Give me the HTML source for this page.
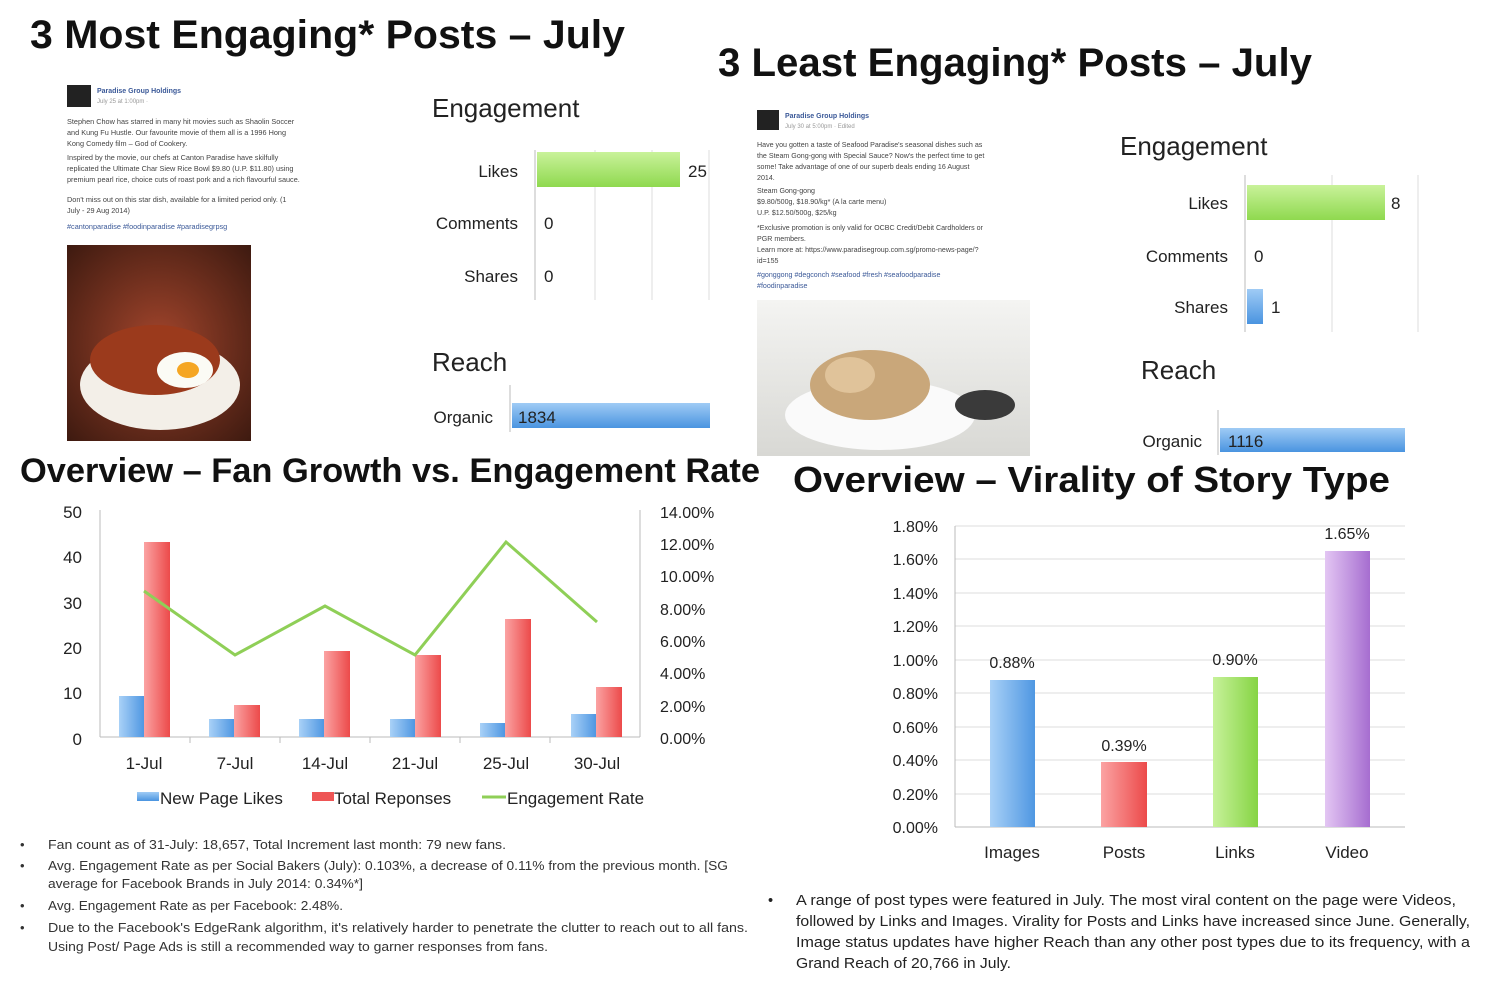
<!DOCTYPE html>
<html><head><meta charset="utf-8"><style>
html,body{margin:0;padding:0;background:#fff}
svg{display:block}
text{font-family:"Liberation Sans",sans-serif}
</style></head><body>
<svg width="1500" height="983" viewBox="0 0 1500 983" xmlns="http://www.w3.org/2000/svg">
<defs>
<linearGradient id="gG" x1="0" y1="0" x2="0" y2="1"><stop offset="0" stop-color="#c9f29a"/><stop offset="1" stop-color="#8fd94f"/></linearGradient>
<linearGradient id="gB" x1="0" y1="0" x2="0" y2="1"><stop offset="0" stop-color="#9fcbf5"/><stop offset="1" stop-color="#4a94e0"/></linearGradient>
<linearGradient id="vB" x1="0" y1="0" x2="1" y2="0"><stop offset="0" stop-color="#a9d1f7"/><stop offset="1" stop-color="#4f97e2"/></linearGradient>
<linearGradient id="vR" x1="0" y1="0" x2="1" y2="0"><stop offset="0" stop-color="#fba3a3"/><stop offset="1" stop-color="#ec4a4a"/></linearGradient>
<linearGradient id="vG" x1="0" y1="0" x2="1" y2="0"><stop offset="0" stop-color="#c7f29a"/><stop offset="1" stop-color="#86d444"/></linearGradient>
<linearGradient id="vP" x1="0" y1="0" x2="1" y2="0"><stop offset="0" stop-color="#e3c6f3"/><stop offset="1" stop-color="#a66dd0"/></linearGradient>
<radialGradient id="food1" cx="0.5" cy="0.5" r="0.7"><stop offset="0" stop-color="#a2452c"/><stop offset="1" stop-color="#3e1a10"/></radialGradient>
<linearGradient id="food2" x1="0" y1="0" x2="0" y2="1"><stop offset="0" stop-color="#f4f4f2"/><stop offset="1" stop-color="#d8d8d4"/></linearGradient>
</defs>

<!-- Top left -->
<text x="30" y="48" font-size="40" font-weight="bold" fill="#111" textLength="595" lengthAdjust="spacingAndGlyphs">3 Most Engaging* Posts – July</text>
<rect x="67" y="85" width="24" height="22" fill="#222"/>
<text x="97" y="93" font-size="7" fill="#3b5998" font-weight="bold">Paradise Group Holdings</text>
<text x="97" y="103" font-size="6" fill="#999">July 25 at 1:00pm · </text>
<g font-size="7.3" fill="#444">
<text x="67" y="124">Stephen Chow has starred in many hit movies such as Shaolin Soccer</text>
<text x="67" y="135">and Kung Fu Hustle. Our favourite movie of them all is a 1996 Hong</text>
<text x="67" y="146">Kong Comedy film – God of Cookery.</text>
<text x="67" y="160">Inspired by the movie, our chefs at Canton Paradise have skilfully</text>
<text x="67" y="171">replicated the Ultimate Char Siew Rice Bowl $9.80 (U.P. $11.80) using</text>
<text x="67" y="182">premium pearl rice, choice cuts of roast pork and a rich flavourful sauce.</text>
<text x="67" y="202">Don't miss out on this star dish, available for a limited period only. (1</text>
<text x="67" y="213">July - 29 Aug 2014)</text>
<text x="67" y="229" fill="#3b5998">#cantonparadise #foodinparadise #paradisegrpsg</text>
</g>
<rect x="67" y="245" width="184" height="196" fill="url(#food1)"/>
<ellipse cx="160" cy="385" rx="80" ry="45" fill="#f3efe8"/>
<ellipse cx="155" cy="360" rx="65" ry="35" fill="#9b3a1c"/>
<ellipse cx="185" cy="370" rx="28" ry="18" fill="#fbfbf5"/>
<ellipse cx="188" cy="370" rx="11" ry="8" fill="#f5a623"/>

<text x="432" y="117" font-size="26" fill="#222">Engagement</text>
<line x1="535" y1="150" x2="535" y2="300" stroke="#bbb"/>
<line x1="595" y1="150" x2="595" y2="300" stroke="#ddd"/>
<line x1="652" y1="150" x2="652" y2="300" stroke="#ddd"/>
<line x1="709" y1="150" x2="709" y2="300" stroke="#ddd"/>
<rect x="537" y="152" width="143" height="35" fill="url(#gG)"/>
<g font-size="17" fill="#222">
<text x="518" y="177" text-anchor="end">Likes</text>
<text x="688" y="177">25</text>
<text x="518" y="229" text-anchor="end">Comments</text>
<text x="544" y="229">0</text>
<text x="518" y="282" text-anchor="end">Shares</text>
<text x="544" y="282">0</text>
</g>
<text x="432" y="371" font-size="26" fill="#222">Reach</text>
<line x1="510" y1="385" x2="510" y2="432" stroke="#bbb"/>
<rect x="512" y="403" width="198" height="25" fill="url(#gB)"/>
<text x="493" y="423" font-size="17" fill="#222" text-anchor="end">Organic</text>
<text x="518" y="423" font-size="17" fill="#222">1834</text>

<!-- Top right -->
<text x="718" y="76" font-size="40" font-weight="bold" fill="#111" textLength="594" lengthAdjust="spacingAndGlyphs">3 Least Engaging* Posts – July</text>
<rect x="757" y="110" width="22" height="20" fill="#222"/>
<text x="785" y="118" font-size="7" fill="#3b5998" font-weight="bold">Paradise Group Holdings</text>
<text x="785" y="128" font-size="6" fill="#999">July 30 at 5:00pm · Edited</text>
<g font-size="7.1" fill="#444">
<text x="757" y="147">Have you gotten a taste of Seafood Paradise's seasonal dishes such as</text>
<text x="757" y="158">the Steam Gong-gong with Special Sauce? Now's the perfect time to get</text>
<text x="757" y="169">some! Take advantage of one of our superb deals ending 16 August</text>
<text x="757" y="180">2014.</text>
<text x="757" y="193">Steam Gong-gong</text>
<text x="757" y="204">$9.80/500g, $18.90/kg* (A la carte menu)</text>
<text x="757" y="215">U.P. $12.50/500g, $25/kg</text>
<text x="757" y="230">*Exclusive promotion is only valid for OCBC Credit/Debit Cardholders or</text>
<text x="757" y="241">PGR members.</text>
<text x="757" y="252">Learn more at: https://www.paradisegroup.com.sg/promo-news-page/?</text>
<text x="757" y="263">id=155</text>
<text x="757" y="277" fill="#3b5998">#gonggong #degconch #seafood #fresh #seafoodparadise</text>
<text x="757" y="288" fill="#3b5998">#foodinparadise</text>
</g>
<rect x="757" y="300" width="273" height="156" fill="url(#food2)"/>
<ellipse cx="880" cy="415" rx="95" ry="35" fill="#fafafa"/>
<ellipse cx="870" cy="385" rx="60" ry="35" fill="#c9a77a"/>
<ellipse cx="850" cy="375" rx="25" ry="18" fill="#e0c39a"/>
<ellipse cx="985" cy="405" rx="30" ry="15" fill="#3a3a3a"/>

<text x="1120" y="155" font-size="26" fill="#222">Engagement</text>
<line x1="1245" y1="175" x2="1245" y2="332" stroke="#bbb"/>
<line x1="1332" y1="175" x2="1332" y2="332" stroke="#ddd"/>
<line x1="1418" y1="175" x2="1418" y2="332" stroke="#ddd"/>
<rect x="1247" y="185" width="138" height="35" fill="url(#gG)"/>
<rect x="1247" y="289" width="16" height="35" fill="url(#gB)"/>
<g font-size="17" fill="#222">
<text x="1228" y="209" text-anchor="end">Likes</text>
<text x="1391" y="209">8</text>
<text x="1228" y="262" text-anchor="end">Comments</text>
<text x="1254" y="262">0</text>
<text x="1228" y="313" text-anchor="end">Shares</text>
<text x="1271" y="313">1</text>
</g>
<text x="1141" y="379" font-size="26" fill="#222">Reach</text>
<line x1="1218" y1="410" x2="1218" y2="455" stroke="#bbb"/>
<rect x="1220" y="428" width="185" height="24" fill="url(#gB)"/>
<text x="1202" y="447" font-size="17" fill="#222" text-anchor="end">Organic</text>
<text x="1228" y="447" font-size="17" fill="#222">1116</text>

<!-- Bottom left -->
<text x="20" y="482" font-size="34" font-weight="bold" fill="#111" textLength="740" lengthAdjust="spacingAndGlyphs">Overview – Fan Growth vs. Engagement Rate</text>
<g stroke="#bbb">
<line x1="100" y1="510" x2="100" y2="737"/>
<line x1="640" y1="510" x2="640" y2="737"/>
<line x1="100" y1="737" x2="640" y2="737"/>
<line x1="190" y1="737" x2="190" y2="743"/><line x1="280" y1="737" x2="280" y2="743"/><line x1="370" y1="737" x2="370" y2="743"/><line x1="460" y1="737" x2="460" y2="743"/><line x1="550" y1="737" x2="550" y2="743"/>
</g>
<g font-size="17" fill="#222" text-anchor="end">
<text x="82" y="518">50</text><text x="82" y="563">40</text><text x="82" y="609">30</text><text x="82" y="654">20</text><text x="82" y="699">10</text><text x="82" y="745">0</text>
</g>
<g font-size="16" fill="#222">
<text x="660" y="518">14.00%</text><text x="660" y="550">12.00%</text><text x="660" y="582">10.00%</text><text x="660" y="615">8.00%</text><text x="660" y="647">6.00%</text><text x="660" y="679">4.00%</text><text x="660" y="712">2.00%</text><text x="660" y="744">0.00%</text>
</g>
<rect x="119" y="696" width="25" height="41" fill="url(#vB)"/>
<rect x="144" y="542" width="26" height="195" fill="url(#vR)"/>
<rect x="209" y="719" width="25" height="18" fill="url(#vB)"/>
<rect x="234" y="705" width="26" height="32" fill="url(#vR)"/>
<rect x="299" y="719" width="25" height="18" fill="url(#vB)"/>
<rect x="324" y="651" width="26" height="86" fill="url(#vR)"/>
<rect x="390" y="719" width="25" height="18" fill="url(#vB)"/>
<rect x="415" y="655" width="26" height="82" fill="url(#vR)"/>
<rect x="480" y="723" width="25" height="14" fill="url(#vB)"/>
<rect x="505" y="619" width="26" height="118" fill="url(#vR)"/>
<rect x="571" y="714" width="25" height="23" fill="url(#vB)"/>
<rect x="596" y="687" width="26" height="50" fill="url(#vR)"/>
<polyline points="144,591 235,655 325,606 415,655 506,542 597,622" fill="none" stroke="#8fcf57" stroke-width="3"/>
<g font-size="17" fill="#222" text-anchor="middle">
<text x="144" y="769">1-Jul</text><text x="235" y="769">7-Jul</text><text x="325" y="769">14-Jul</text><text x="415" y="769">21-Jul</text><text x="506" y="769">25-Jul</text><text x="597" y="769">30-Jul</text>
</g>
<rect x="137" y="792" width="22" height="9" fill="url(#gB)"/>
<text x="160" y="804" font-size="17" fill="#222">New Page Likes</text>
<rect x="312" y="792" width="22" height="9" fill="#ee5555"/>
<text x="334" y="804" font-size="17" fill="#222">Total Reponses</text>
<line x1="482" y1="797" x2="506" y2="797" stroke="#8fcf57" stroke-width="3"/>
<text x="507" y="804" font-size="17" fill="#222">Engagement Rate</text>

<g font-size="13" fill="#333">
<text x="20" y="849">•</text><text x="48" y="849" textLength="458" lengthAdjust="spacingAndGlyphs">Fan count as of 31-July: 18,657, Total Increment last month: 79 new fans.</text>
<text x="20" y="870">•</text><text x="48" y="870" textLength="680" lengthAdjust="spacingAndGlyphs">Avg. Engagement Rate as per Social Bakers (July): 0.103%, a decrease of 0.11% from the previous month. [SG</text>
<text x="48" y="888" textLength="315" lengthAdjust="spacingAndGlyphs">average for Facebook Brands in July 2014: 0.34%*]</text>
<text x="20" y="910">•</text><text x="48" y="910" textLength="295" lengthAdjust="spacingAndGlyphs">Avg. Engagement Rate as per Facebook: 2.48%.</text>
<text x="20" y="932">•</text><text x="48" y="932" textLength="700" lengthAdjust="spacingAndGlyphs">Due to the Facebook's EdgeRank algorithm, it's relatively harder to penetrate the clutter to reach out to all fans.</text>
<text x="48" y="951" textLength="500" lengthAdjust="spacingAndGlyphs">Using Post/ Page Ads is still a recommended way to garner responses from fans.</text>
</g>

<!-- Bottom right -->
<text x="793" y="492" font-size="36" font-weight="bold" fill="#111" textLength="597" lengthAdjust="spacingAndGlyphs">Overview – Virality of Story Type</text>
<g stroke="#ddd">
<line x1="955" y1="526" x2="1405" y2="526"/><line x1="955" y1="559" x2="1405" y2="559"/><line x1="955" y1="593" x2="1405" y2="593"/><line x1="955" y1="626" x2="1405" y2="626"/><line x1="955" y1="660" x2="1405" y2="660"/><line x1="955" y1="693" x2="1405" y2="693"/><line x1="955" y1="727" x2="1405" y2="727"/><line x1="955" y1="760" x2="1405" y2="760"/><line x1="955" y1="794" x2="1405" y2="794"/>
</g>
<line x1="955" y1="827" x2="1405" y2="827" stroke="#bbb"/>
<line x1="955" y1="526" x2="955" y2="827" stroke="#bbb"/>
<g font-size="16" fill="#222" text-anchor="end">
<text x="938" y="532">1.80%</text><text x="938" y="565">1.60%</text><text x="938" y="599">1.40%</text><text x="938" y="632">1.20%</text><text x="938" y="666">1.00%</text><text x="938" y="699">0.80%</text><text x="938" y="733">0.60%</text><text x="938" y="766">0.40%</text><text x="938" y="800">0.20%</text><text x="938" y="833">0.00%</text>
</g>
<rect x="990" y="680" width="45" height="147" fill="url(#vB)"/>
<rect x="1101" y="762" width="46" height="65" fill="url(#vR)"/>
<rect x="1213" y="677" width="45" height="150" fill="url(#vG)"/>
<rect x="1325" y="551" width="45" height="276" fill="url(#vP)"/>
<g font-size="16" fill="#222" text-anchor="middle">
<text x="1012" y="668">0.88%</text><text x="1124" y="751">0.39%</text><text x="1235" y="665">0.90%</text><text x="1347" y="539">1.65%</text>
</g>
<g font-size="17" fill="#222" text-anchor="middle">
<text x="1012" y="858">Images</text><text x="1124" y="858">Posts</text><text x="1235" y="858">Links</text><text x="1347" y="858">Video</text>
</g>
<g font-size="14.5" fill="#222">
<text x="768" y="905">•</text>
<text x="796" y="905" textLength="660" lengthAdjust="spacingAndGlyphs">A range of post types were featured in July. The most viral content on the page were Videos,</text>
<text x="796" y="926" textLength="674" lengthAdjust="spacingAndGlyphs">followed by Links and Images. Virality for Posts and Links have increased since June. Generally,</text>
<text x="796" y="947" textLength="674" lengthAdjust="spacingAndGlyphs">Image status updates have higher Reach than any other post types due to its frequency, with a</text>
<text x="796" y="968" textLength="215" lengthAdjust="spacingAndGlyphs">Grand Reach of 20,766 in July.</text>
</g>
</svg>
</body></html>
